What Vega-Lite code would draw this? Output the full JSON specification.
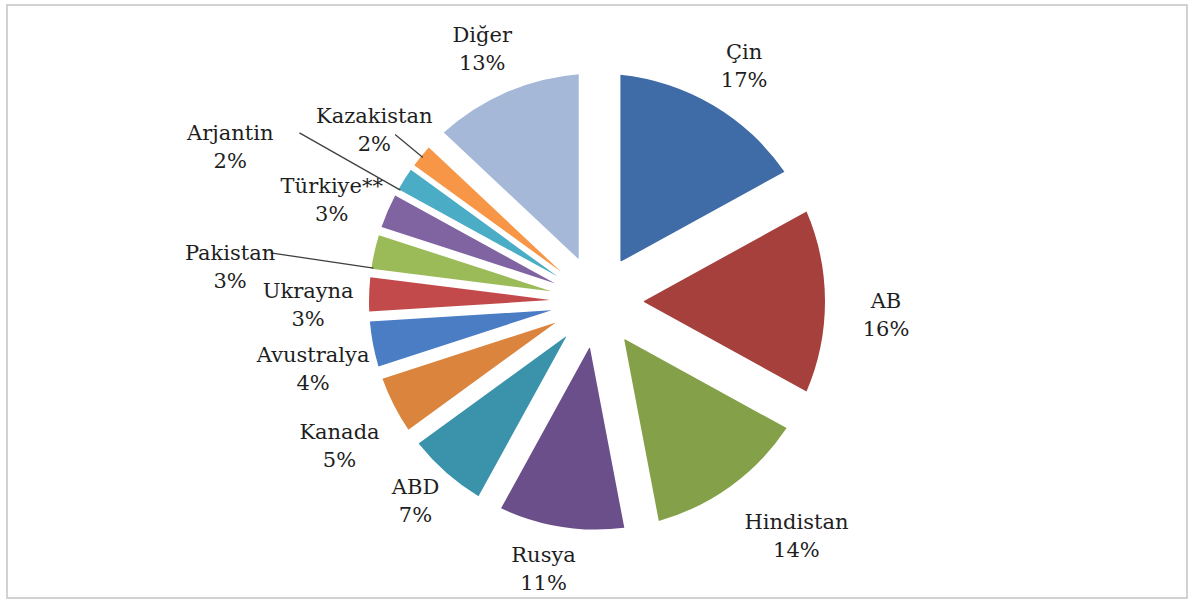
{
  "$schema": "https://vega.github.io/schema/vega-lite/v6.json",
  "autosize": "none",
  "width": 1180,
  "height": 593,
  "padding": {"left": 7, "top": 5, "right": 1, "bottom": 1},
  "background": "white",
  "config": {"view": {"stroke": null}},
  "data": {
    "values": [
      {"name": "Çin", "value": 17},
      {"name": "AB", "value": 16},
      {"name": "Hindistan", "value": 14},
      {"name": "Rusya", "value": 11},
      {"name": "ABD", "value": 7},
      {"name": "Kanada", "value": 5},
      {"name": "Avustralya", "value": 4},
      {"name": "Ukrayna", "value": 3},
      {"name": "Pakistan", "value": 3},
      {"name": "Türkiye**", "value": 3},
      {"name": "Arjantin", "value": 2},
      {"name": "Kazakistan", "value": 2},
      {"name": "Diğer", "value": 13}
    ]
  },
  "transform": [
    {"window": [{"op": "row_number", "as": "i"}]},
    {"calculate": "datum.name + '\\n' + datum.value + '%'", "as": "label"}
  ],
  "layer": [
    {
      "mark": {"type": "rect", "fill": "transparent", "stroke": "#c4c4c4", "strokeWidth": 1.5},
      "encoding": {
        "strokeOpacity": {"condition": {"test": "datum.i === 1", "value": 1}, "value": 0}
      }
    },
    {
      "mark": {
        "type": "arc",
        "innerRadius": 47,
        "outerRadius": 228,
        "padAngle": {"expr": "2*asin(46*sin(PI*datum.value/100)/232.8)"}
      },
      "encoding": {
        "theta": {"field": "value", "type": "quantitative", "stack": true},
        "order": {"field": "i", "type": "quantitative"},
        "color": {
          "field": "name",
          "type": "nominal",
          "legend": null,
          "scale": {
            "domain": ["Çin", "AB", "Hindistan", "Rusya", "ABD", "Kanada", "Avustralya", "Ukrayna", "Pakistan", "Türkiye**", "Arjantin", "Kazakistan", "Diğer"],
            "range": ["#3F6CA6", "#A6403D", "#84A049", "#6A4F8A", "#3A93AB", "#DB843D", "#4A7DC4", "#C34A4A", "#9BBB59", "#8064A2", "#4BACC6", "#F79646", "#A5B8D8"]
          }
        }
      }
    },
    {
      "mark": {
        "type": "arc", "innerRadius": 226, "outerRadius": 330, "padAngle": 3,
        "thetaOffset": -0.072, "theta2Offset": -0.072,
        "fill": "transparent", "stroke": "#404040", "strokeWidth": 1.3
      },
      "encoding": {
        "theta": {"field": "value", "type": "quantitative", "stack": true},
        "order": {"field": "i", "type": "quantitative"},
        "strokeOpacity": {"condition": {"test": "datum.name === 'Pakistan'", "value": 1}, "value": 0}
      }
    },
    {
      "mark": {
        "type": "arc", "innerRadius": 226, "outerRadius": 342, "padAngle": 3,
        "thetaOffset": -0.05, "theta2Offset": -0.05,
        "fill": "transparent", "stroke": "#404040", "strokeWidth": 1.3
      },
      "encoding": {
        "theta": {"field": "value", "type": "quantitative", "stack": true},
        "order": {"field": "i", "type": "quantitative"},
        "strokeOpacity": {"condition": {"test": "datum.name === 'Arjantin'", "value": 1}, "value": 0}
      }
    },
    {
      "mark": {
        "type": "arc", "innerRadius": 226, "outerRadius": 262, "padAngle": 3,
        "fill": "transparent", "stroke": "#404040", "strokeWidth": 1.3
      },
      "encoding": {
        "theta": {"field": "value", "type": "quantitative", "stack": true},
        "order": {"field": "i", "type": "quantitative"},
        "strokeOpacity": {"condition": {"test": "datum.name === 'Kazakistan'", "value": 1}, "value": 0}
      }
    },
    {
      "mark": {
        "type": "text", "radius": 289,
        "font": "DejaVu Serif", "fontSize": 21, "lineHeight": 28, "lineBreak": "\n",
        "color": "#1e1e1e", "align": "center", "baseline": "middle"
      },
      "encoding": {
        "theta": {"field": "value", "type": "quantitative", "stack": true},
        "order": {"field": "i", "type": "quantitative"},
        "text": {"field": "label", "type": "nominal"},
        "opacity": {
          "condition": {"test": "indexof(['Hindistan','Rusya','ABD','Pakistan','Arjantin'], datum.name) >= 0", "value": 0},
          "value": 1
        }
      }
    },
    {
      "mark": {
        "type": "text", "radius": 260, "thetaOffset": 0.05,
        "font": "DejaVu Serif", "fontSize": 21, "lineHeight": 28, "lineBreak": "\n",
        "color": "#1e1e1e", "align": "center", "baseline": "middle"
      },
      "encoding": {
        "theta": {"field": "value", "type": "quantitative", "stack": true},
        "order": {"field": "i", "type": "quantitative"},
        "text": {"field": "label", "type": "nominal"},
        "opacity": {"condition": {"test": "datum.name === 'Rusya' || datum.name === 'ABD'", "value": 1}, "value": 0}
      }
    },
    {
      "mark": {
        "type": "text", "radius": 298, "thetaOffset": -0.105,
        "font": "DejaVu Serif", "fontSize": 21, "lineHeight": 28, "lineBreak": "\n",
        "color": "#1e1e1e", "align": "center", "baseline": "middle"
      },
      "encoding": {
        "theta": {"field": "value", "type": "quantitative", "stack": true},
        "order": {"field": "i", "type": "quantitative"},
        "text": {"field": "label", "type": "nominal"},
        "opacity": {"condition": {"test": "datum.name === 'Hindistan'", "value": 1}, "value": 0}
      }
    },
    {
      "mark": {
        "type": "text", "radius": 370, "thetaOffset": -0.09,
        "font": "DejaVu Serif", "fontSize": 21, "lineHeight": 28, "lineBreak": "\n",
        "color": "#1e1e1e", "align": "center", "baseline": "middle"
      },
      "encoding": {
        "theta": {"field": "value", "type": "quantitative", "stack": true},
        "order": {"field": "i", "type": "quantitative"},
        "text": {"field": "label", "type": "nominal"},
        "opacity": {"condition": {"test": "datum.name === 'Pakistan'", "value": 1}, "value": 0}
      }
    },
    {
      "mark": {
        "type": "text", "radius": 403, "thetaOffset": -0.138,
        "font": "DejaVu Serif", "fontSize": 21, "lineHeight": 28, "lineBreak": "\n",
        "color": "#1e1e1e", "align": "center", "baseline": "middle"
      },
      "encoding": {
        "theta": {"field": "value", "type": "quantitative", "stack": true},
        "order": {"field": "i", "type": "quantitative"},
        "text": {"field": "label", "type": "nominal"},
        "opacity": {"condition": {"test": "datum.name === 'Arjantin'", "value": 1}, "value": 0}
      }
    }
  ]
}
